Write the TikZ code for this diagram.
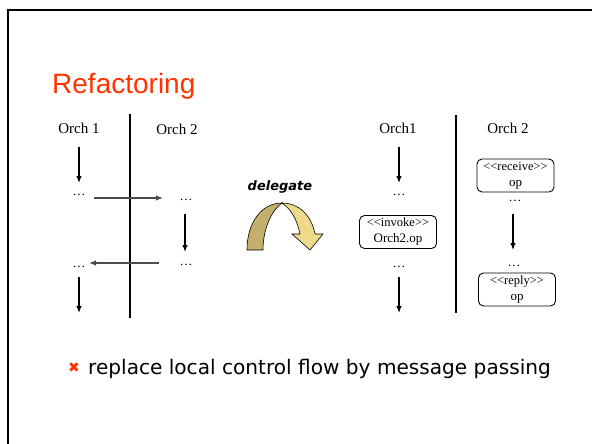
\documentclass[tikz,border=0pt]{standalone}
\usepackage{fontspec}
\setmainfont{Liberation Serif}
\newfontfamily\titlefont{Liberation Sans}
\newfontfamily\bodyfont{DejaVu Sans}
\usetikzlibrary{arrows.meta}
\definecolor{titlered}{RGB}{255,51,0}
\definecolor{darkband}{RGB}{196,176,108}
\definecolor{lightband}{RGB}{238,218,138}
\newcommand{\ltlt}{<\kern0pt<}
\newcommand{\gtgt}{>\kern0pt>}
\tikzset{
  flow/.style={line width=1.2pt,-{Latex[length=7pt,width=5.5pt]}},
  msg/.style={line width=1.2pt,black!70,-{Latex[length=7pt,width=5.5pt]}},
  sep/.style={line width=1.8pt},
  lbl/.style={font=\fontsize{15}{18}\selectfont,inner sep=0pt},
  dots/.style={font=\fontsize{13}{15}\selectfont,inner sep=0pt,anchor=base},
  actbox/.style={draw,line width=0.9pt,rounded corners=5pt,minimum width=77pt,minimum height=33pt,
    inner sep=0pt,align=center,font=\fontsize{13}{16}\selectfont},
}
\begin{document}
\begin{tikzpicture}[x=1pt,y=-1pt]
\useasboundingbox (0,0) rectangle (592,444);
% frame
\draw[line width=2pt] (7.5,444) -- (7.5,10.5) -- (592,10.5);
% title
\node[anchor=base west,inner sep=0pt,text=titlered,font=\titlefont\fontsize{28}{32}\selectfont] (title) at (52,94) {Refactoring};

% ---- left diagram ----
\node[lbl] (lo1) at (79,128) {Orch 1};
\node[lbl] (lo2) at (177,129) {Orch 2};
\coordinate (lsT) at (130,114);
\coordinate (lsB) at (130,318);
\draw[sep] (lsT) -- (lsB);
\node[dots] (ld1) at (79,195) {…};
\node[dots] (ld2) at (186,200) {…};
\node[dots] (ld3) at (186,265) {…};
\node[dots] (ld4) at (79,267) {…};
\coordinate (la1s) at (79,147); \coordinate (la1e) at (79,183);
\coordinate (lm1s) at (94,198); \coordinate (lm1e) at (163,198);
\coordinate (la2s) at (185,214); \coordinate (la2e) at (185,252);
\coordinate (lm2s) at (159,263); \coordinate (lm2e) at (89,263);
\coordinate (la3s) at (79,277); \coordinate (la3e) at (79,313);
\draw[flow] (la1s) -- (la1e);
\draw[msg] (lm1s) -- (lm1e);
\draw[flow] (la2s) -- (la2e);
\draw[msg] (lm2s) -- (lm2e);
\draw[flow] (la3s) -- (la3e);

% ---- delegate arrow ----
\node[inner sep=0pt,font=\bodyfont\bfseries\itshape\fontsize{13}{15}\selectfont] (deleg) at (280,187) {delegate};
\draw[line width=0.6pt,fill=darkband]
  (247,250) .. controls (247,222) and (262,203) .. (282,203)
  .. controls (272,210) and (263,228) .. (263,250) -- cycle;
\draw[line width=0.6pt,fill=lightband]
  (282,203) .. controls (298,203) and (311,214) .. (315,234)
  -- (323,234) -- (310,250) -- (292,234) -- (300,234)
  .. controls (297,220) and (292,210) .. (282,203) -- cycle;

% ---- right diagram ----
\node[lbl] (ro1) at (398,128) {Orch1};
\node[lbl] (ro2) at (508,128) {Orch 2};
\coordinate (rsT) at (456,115);
\coordinate (rsB) at (456,313);
\draw[sep] (rsT) -- (rsB);
\node[dots] (rd1) at (399,195) {…};
\node[actbox] (invoke) at (398,232) {\fontsize{12.5}{16}\selectfont\ltlt invoke\gtgt\\Orch2.op};
\node[dots] (rd2) at (399,267) {…};
\node[actbox] (receive) at (515.5,175.5) {\fontsize{12.5}{16}\selectfont\ltlt receive\gtgt\\op};
\node[dots] (rd3) at (515,201) {…};
\node[dots] (rd4) at (514,266) {…};
\node[actbox] (reply) at (517,289.5) {\fontsize{12.5}{16}\selectfont\ltlt reply\gtgt\\op};
\coordinate (ra1s) at (399,147); \coordinate (ra1e) at (399,183);
\coordinate (ra2s) at (399,277); \coordinate (ra2e) at (399,313);
\coordinate (ra3s) at (513,214); \coordinate (ra3e) at (513,250);
\draw[flow] (ra1s) -- (ra1e);
\draw[flow] (ra2s) -- (ra2e);
\draw[flow] (ra3s) -- (ra3e);

% ---- bullet ----
\node[inner sep=0pt,text=titlered,font=\bodyfont\fontsize{14}{16}\selectfont] (cross) at (74,368) {✖};
\node[anchor=base west,inner sep=0pt,font=\bodyfont\fontsize{20.1}{24}\selectfont] (bullet) at (88,374) {replace local control flow by message passing};
\end{tikzpicture}
\end{document}
